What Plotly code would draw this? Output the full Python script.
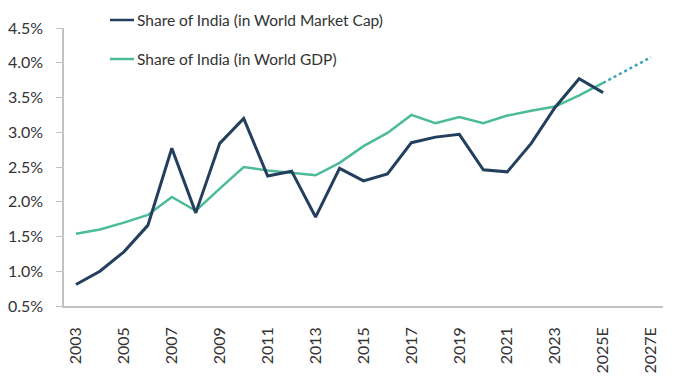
import plotly.graph_objects as go

years = ["2003", "2004", "2005", "2006", "2007", "2008", "2009", "2010", "2011", "2012",
         "2013", "2014", "2015", "2016", "2017", "2018", "2019", "2020", "2021", "2022",
         "2023", "2024", "2025E", "2026E", "2027E"]

market_cap = [0.81, 1.00, 1.28, 1.66, 2.77, 1.84, 2.84, 3.20, 2.37, 2.44,
              1.78, 2.48, 2.30, 2.40, 2.85, 2.93, 2.97, 2.46, 2.43, 2.84,
              3.36, 3.77, 3.57]

gdp = [1.54, 1.60, 1.70, 1.81, 2.07, 1.87, 2.19, 2.50, 2.45, 2.42,
       2.38, 2.56, 2.80, 2.99, 3.25, 3.13, 3.22, 3.13, 3.24, 3.31,
       3.37, 3.53, 3.71]

gdp_forecast_years = ["2025E", "2026E", "2027E"]
gdp_forecast = [3.71, 3.89, 4.08]

tick_years = years[::2]
y_ticks = [0.5, 1.0, 1.5, 2.0, 2.5, 3.0, 3.5, 4.0, 4.5]

legend_names = ["Share of India (in World Market Cap)", "Share of India (in World GDP)"]

NAVY = "#243f5e"
GREEN = "#4cbb9a"
TEAL = "#3aa6b3"
FONT = "Lato"

fig = go.Figure()
fig.add_trace(go.Scatter(x=gdp_forecast_years, y=gdp_forecast, mode="lines",
                         line=dict(color=TEAL, width=2.5, dash="dot"), showlegend=False))
fig.add_trace(go.Scatter(x=years[:len(gdp)], y=gdp, mode="lines",
                         line=dict(color=GREEN, width=2.5), showlegend=False))
fig.add_trace(go.Scatter(x=years[:len(market_cap)], y=market_cap, mode="lines",
                         line=dict(color=NAVY, width=3), showlegend=False))

# page body has an 8px default margin; compensate
OFF = 8
W, H = 680 - OFF, 378 - OFF
L, R, T, B = 64 - OFF, 17, 28 - OFF, 72
PW, PH = W - L - R, H - T - B
for name, col, ly in zip(legend_names, [NAVY, GREEN], [20, 59]):
    yp = 1 - (ly - 28) / PH
    fig.add_shape(type="line", xref="paper", yref="paper",
                  x0=(110 - 64) / PW, x1=(134 - 64) / PW, y0=yp, y1=yp,
                  line=dict(color=col, width=2.5))
    fig.add_annotation(xref="paper", yref="paper", x=(135 - 64) / PW, y=yp,
                       text=name, showarrow=False, xanchor="left", yanchor="middle",
                       font=dict(family=FONT, size=15.5, color="#333333"))

fig.update_layout(
    width=W, height=H,
    margin=dict(l=L, r=R, t=T, b=B),
    paper_bgcolor="white", plot_bgcolor="white",
    font=dict(family=FONT, size=16, color="#333333"),
    xaxis=dict(type="category", categoryorder="array", categoryarray=years,
               range=[-0.5, 24.5], tickmode="array", tickvals=tick_years, ticktext=tick_years,
               tickangle=-90, showgrid=False, zeroline=False, automargin=False,
               showline=True, linecolor="#bfc3c8", linewidth=1.5, ticks="",
               ticklabelstandoff=13),
    yaxis=dict(range=[0.5, 4.5], tickmode="array", tickvals=y_ticks,
               ticktext=[f"{v:.1f}%" for v in y_ticks], automargin=False,
               showgrid=False, zeroline=False, showline=True, linecolor="#bfc3c8",
               linewidth=1.5, ticks="outside", ticklen=6, tickcolor="#bfc3c8",
               ticklabelstandoff=10),
)

fig.write_html("out.html")
